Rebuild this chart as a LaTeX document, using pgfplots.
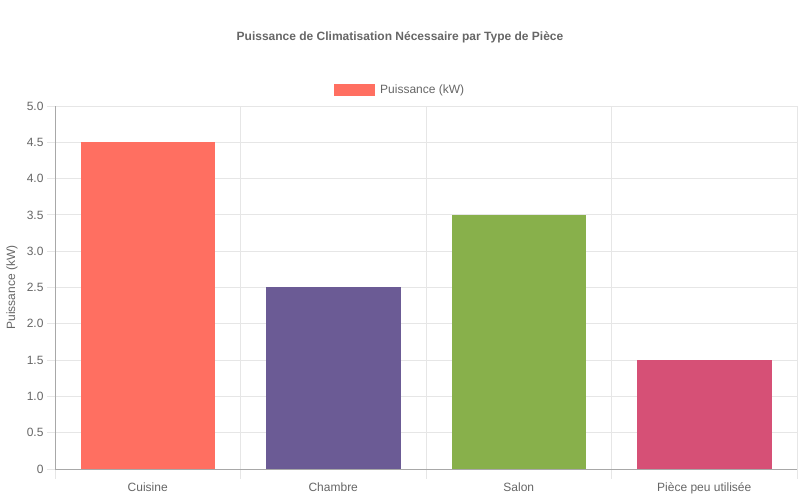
\documentclass[border=0pt]{standalone}
\usepackage{pgfplots}
\pgfplotsset{compat=1.18}
\usepackage{fontspec}
\setmainfont{Liberation Sans}
\definecolor{cA}{HTML}{FF6F61}
\definecolor{cB}{HTML}{6B5B95}
\definecolor{cC}{HTML}{88B04B}
\definecolor{cD}{HTML}{D65076}
\definecolor{txt}{HTML}{666666}
\definecolor{gridc}{HTML}{E6E6E6}
\definecolor{axc}{HTML}{A8A8A8}
\begin{document}
\begin{tikzpicture}[x=1pt,y=1pt]
\useasboundingbox (0,0) rectangle (800,500);
\node[font=\fontsize{12}{14}\selectfont\bfseries, text=txt] at (400,463) {Puissance de Climatisation Nécessaire par Type de Pièce};
\begin{axis}[
  at={(55pt,31pt)}, anchor=south west,
  scale only axis, width=742pt, height=363pt,
  xmin=-0.5, xmax=3.5, ymin=0, ymax=5,
  axis lines=left, axis line style={draw=axc, -},
  ybar, bar width=0.72, bar shift=0pt,
  xtick={0,1,2,3},
  xticklabels={Cuisine,Chambre,Salon,Pièce peu utilisée},
  major x tick style={draw=none},
  minor xtick={-0.5,0.5,1.5,2.5,3.5},
  minor x tick style={draw=gridc, line width=0.8pt},
  xminorgrids=true,
  minor x grid style={draw=gridc, line width=0.8pt},
  ytick={0,0.5,1,1.5,2,2.5,3,3.5,4,4.5,5},
  yticklabels={0,0.5,1.0,1.5,2.0,2.5,3.0,3.5,4.0,4.5,5.0},
  ymajorgrids=true,
  major y grid style={draw=gridc, line width=0.8pt},
  major y tick style={draw=gridc, line width=0.8pt},
  tick align=outside,
  major tick length=8pt, minor tick length=10pt,
  ticklabel style={font=\fontsize{12}{14}\selectfont, text=txt},
  xticklabel style={yshift=-2pt},
  ylabel={Puissance (kW)},
  every axis y label/.style={at={(-43pt,0.5)}, rotate=90, anchor=center, font=\fontsize{12}{14}\selectfont, text=txt},
  legend style={at={(0.465,1.044)}, anchor=center, draw=none, fill=none, font=\fontsize{12}{14}\selectfont, text=txt, legend cell align=left},
  legend image code/.code={\fill[#1] (0pt,-5.5pt) rectangle (40pt,5.5pt); \path (44pt,0pt);},
]
\addplot[fill=cA, draw=cA] coordinates {(0,4.5)};
\addlegendentry{Puissance (kW)}
\addplot[fill=cB, draw=cB, forget plot] coordinates {(1,2.5)};
\addplot[fill=cC, draw=cC, forget plot] coordinates {(2,3.5)};
\addplot[fill=cD, draw=cD, forget plot] coordinates {(3,1.5)};
\end{axis}
\end{tikzpicture}
\end{document}
